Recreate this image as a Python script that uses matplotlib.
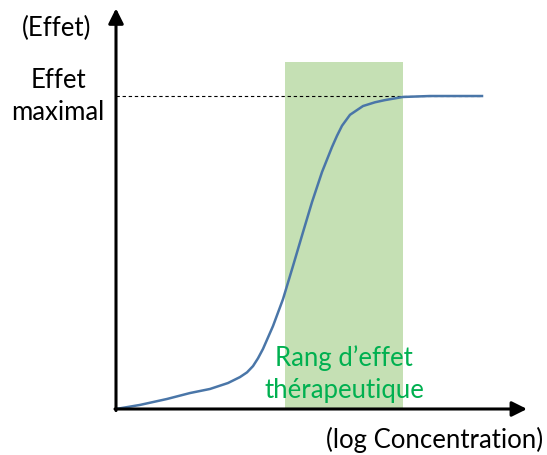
import matplotlib
matplotlib.use("Agg")
import matplotlib.pyplot as plt
import numpy as np

# courbe dose-reponse (x = log concentration, y = effet relatif)
log_conc = np.array([0.0, 0.24, 0.51, 0.74, 0.94, 1.12, 1.24, 1.31, 1.37, 1.42, 1.47,
                     1.57, 1.67, 1.77, 1.87, 1.96, 2.06, 2.16, 2.21, 2.26, 2.34, 2.47,
                     2.59, 2.69, 2.87, 3.14, 3.40, 3.66])
effet = np.array([0.0, 0.013, 0.032, 0.051, 0.064, 0.083, 0.102, 0.117, 0.137, 0.162,
                  0.192, 0.265, 0.351, 0.457, 0.565, 0.661, 0.757, 0.837, 0.873, 0.905,
                  0.940, 0.968, 0.980, 0.987, 0.997, 1.0, 1.0, 1.0])

effet_max = 1.0
zone_therap = [1.69, 2.87]   # rang d'effet therapeutique
zone_haut = 1.11

fig = plt.figure(figsize=(5.47, 4.56), dpi=100)
ax = fig.add_axes([0, 0, 1, 1])
ax.set_xlim(-1.16, 4.31)
ax.set_ylim(-0.147, 1.31)
ax.axis("off")

font = ["Lato", "DejaVu Sans"]

ax.fill_between(zone_therap, 0, zone_haut, color="#c5e0b4", lw=0, zorder=1)
ax.plot([0, log_conc[-1]], [effet_max, effet_max], ls=(0, (3, 2.5)), color="black",
        lw=0.8, zorder=2)
ax.plot(log_conc, effet, color="#4a76a8", lw=1.8, zorder=3,
        solid_joinstyle="round")

# axes avec fleches
ax.annotate("", xy=(4.11, 0), xytext=(-0.01, 0),
            arrowprops=dict(arrowstyle="-|>,head_length=0.9,head_width=0.45",
                            color="black", lw=2.2, shrinkA=0, shrinkB=0), zorder=4)
ax.annotate("", xy=(0, 1.28), xytext=(0, -0.005),
            arrowprops=dict(arrowstyle="-|>,head_length=0.9,head_width=0.45",
                            color="black", lw=2.2, shrinkA=0, shrinkB=0), zorder=4)

fs = 18.5
ax.text(-0.59, 1.22, "(Effet)", ha="center", va="center", fontsize=fs, family=font)
ax.text(-0.58, 1.054, "Effet", ha="center", va="center", fontsize=fs, family=font)
ax.text(-0.58, 0.952, "maximal", ha="center", va="center", fontsize=fs, family=font)
ax.text(3.19, -0.096, "(log Concentration)", ha="center", va="center", fontsize=fs,
        family=font)
ax.text(2.28, 0.165, "Rang d\u2019effet", ha="center", va="center", fontsize=fs,
        color="#00b050", family=font)
ax.text(2.28, 0.063, "thérapeutique", ha="center", va="center", fontsize=fs,
        color="#00b050", family=font)

fig.savefig("out.png", dpi=100)
